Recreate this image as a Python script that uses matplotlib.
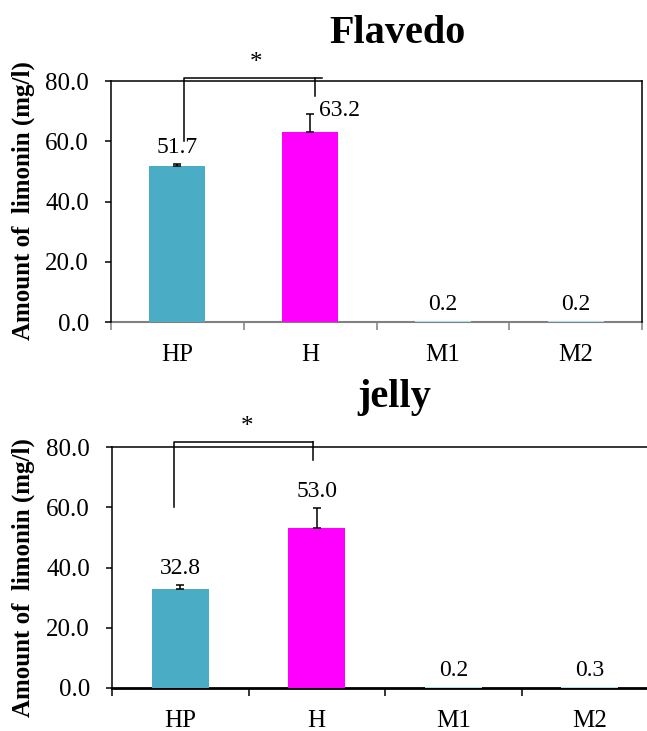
import matplotlib
matplotlib.use('Agg')
import matplotlib.pyplot as plt

plt.rcParams['font.family'] = 'Liberation Serif'

# data
categories = ['HP', 'H', 'M1', 'M2']
flavedo_vals = [51.7, 63.2, 0.2, 0.2]
flavedo_err = [0.8, 6.0, 0.0, 0.0]
jelly_vals = [32.8, 53.0, 0.2, 0.3]
jelly_err = [1.5, 6.6, 0.0, 0.0]
yticks = [0, 20, 40, 60, 80]

bar_colors = ['#4BACC6', '#FF00FF', '#B4DDE6', '#B4DDE6']


def draw_panel(ax, vals, errs, axis_col, spine_w):
    x = list(range(len(categories)))
    ax.bar(x, vals, width=0.42, color=bar_colors, zorder=2)
    ax.errorbar(x[:2], vals[:2], yerr=[[0, 0], errs[:2]], fmt='none',
                ecolor='black', elinewidth=1.1, capsize=3, capthick=1.1, zorder=3)
    ax.set_xlim(-0.5, 3.5)
    ax.set_ylim(0, 80)
    ax.set_yticks(yticks)
    ax.set_yticklabels([f'{v:.1f}' for v in yticks], fontsize=18)
    ax.tick_params(axis='y', length=4, width=1.1, pad=12, direction='out')
    ax.set_xticks(x)
    ax.set_xticklabels(categories, fontsize=18)
    ax.set_xticks([i - 0.5 for i in range(len(categories) + 1)], minor=True)
    ax.tick_params(axis='x', which='major', length=0, pad=16)
    ax.tick_params(axis='x', which='minor', length=6, width=1.1, color=axis_col)
    ax.spines['bottom'].set_color(axis_col)
    ax.spines['bottom'].set_linewidth(spine_w)
    for s in ['left', 'top', 'right']:
        ax.spines[s].set_linewidth(1.1)
    ax.spines['bottom'].set_zorder(1)


def draw_bracket(ax, xl, xh, xr, ytop, yl, yr, xstar, ystar):
    # xh = end of horizontal bar, xr = position of right leg
    ax.plot([xl, xl, xh], [yl, ytop, ytop], color='black', lw=1.1, clip_on=False)
    ax.plot([xr, xr], [ytop, yr], color='black', lw=1.1, clip_on=False)
    ax.text(xstar, ystar, '*', ha='center', va='center', fontsize=18, clip_on=False)


fig = plt.figure(figsize=(6.47, 7.31), dpi=100)

# Flavedo
ax1 = fig.add_axes([111 / 647, 1 - 322 / 731, 531 / 647, 241 / 731])
draw_panel(ax1, flavedo_vals, flavedo_err, '#808080', 1.5)
for i, (v, e) in enumerate(zip(flavedo_vals, flavedo_err)):
    if i == 1:
        ax1.text(i + 0.07, v + e + 0.9, f'{v:.1f}', ha='left', va='center', fontsize=17)
    else:
        ax1.text(i, v + e + 5.5, f'{v:.1f}', ha='center', va='center', fontsize=17)
draw_bracket(ax1, 0.05, 1.09, 1.04, 81.0, 60.2, 75.1, 0.59, 86.0)
fig.text(398 / 647, 1 - 43 / 731, 'Flavedo', ha='center', va='baseline',
         fontsize=29, fontweight='bold')
fig.text(23 / 647, 1 - 201 / 731, 'Amount of  limonin (mg/l)', rotation=90,
         ha='center', va='center', fontsize=18, fontweight='bold')

# jelly
ax2 = fig.add_axes([112 / 647, 1 - 688 / 731, 546 / 647, 241 / 731])
draw_panel(ax2, jelly_vals, jelly_err, 'black', 2.0)
ax2.spines['right'].set_visible(False)
for i, (v, e) in enumerate(zip(jelly_vals, jelly_err)):
    ax2.text(i, v + e + 5.5, f'{v:.1f}', ha='center', va='center', fontsize=17)
draw_bracket(ax2, -0.046, 0.97, 0.97, 81.7, 60.0, 75.7, 0.49, 86.8)
fig.text(394 / 647, 1 - 407 / 731, 'jelly', ha='center', va='baseline',
         fontsize=29, fontweight='bold')
fig.text(23 / 647, 1 - 578 / 731, 'Amount of  limonin (mg/l)', rotation=90,
         ha='center', va='center', fontsize=18, fontweight='bold')

fig.savefig('out.png', dpi=100)
